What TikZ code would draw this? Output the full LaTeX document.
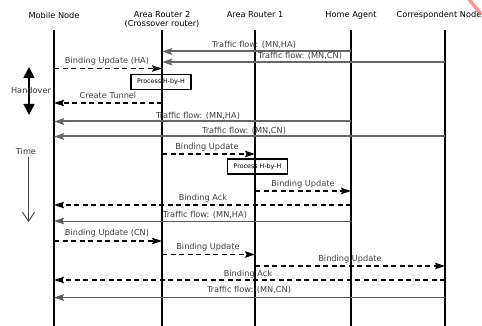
\documentclass[tikz,border=0pt]{standalone}
\usepackage{fontspec}
\setmainfont{DejaVu Sans}
\usetikzlibrary{arrows.meta}
\newcommand\Msg[8]{%
  \coordinate (#1s) at (#3,#5);
  \coordinate (#1e) at (#4,#5);
  \draw[#2] (#1s) -- (#1e);
  \node[lbl] (#1l) at (#6,#7) {#8};}
\begin{document}
\begin{tikzpicture}[x=1pt,y=-1pt,
  hdr/.style={font=\fontsize{8.2}{9}\selectfont, align=center, inner sep=0pt},
  lbl/.style={font=\fontsize{8.2}{9}\selectfont, text=black!75, inner sep=0pt},
  life/.style={line width=1.3pt},
  tip/.style={-{Stealth[length=10pt,width=6.5pt,inset=1.5pt]}},
  thickflow/.style={tip, draw=black!60, line width=2pt},
  thinflow/.style={tip, draw=black!65, line width=1pt},
  ctrl/.style={tip, draw=black, line width=1.2pt, dash pattern=on 5pt off 3.5pt},
  procbox/.style={draw, line width=1.2pt, minimum width=60pt, minimum height=15pt, inner sep=0pt, font=\fontsize{6.3}{7}\selectfont}
]
\useasboundingbox (0,0) rectangle (482,326);
\begin{scope}
\clip (0,0) rectangle (482,326);
% headers
\node[hdr] (mn) at (54,15) {Mobile Node};
\node[hdr] (ar2) at (162,19) {Area Router 2\\(Crossover router)};
\node[hdr] (ar1) at (255,15) {Area Router 1};
\node[hdr] (ha) at (351,15) {Home Agent};
\node[hdr, anchor=east] (cn) at (481.5,15) {Correspondent Node};
% red mark
\draw[draw={rgb,255:red,240;green,110;blue,110}, line width=3.5pt, opacity=0.7] (468,-2) -- (481,14);
\end{scope}
% lifelines
\foreach \n/\x in {mn/54, ar2/162, ar1/255, ha/351, cn/445}{
  \coordinate (\n top) at (\x,30);
  \coordinate (\n bot) at (\x,326);
  \draw[life] (\n top) -- (\n bot);
}
% messages
\Msg{a}{thickflow}{351}{162}{51.5}{254}{45}{Traffic flow: (MN,HA)}
\Msg{b}{thickflow}{445}{162}{62}{300}{56}{Traffic flow: (MN,CN)}
\Msg{c}{ctrl}{54}{162}{68.5}{107}{61}{Binding Update (HA)}
\node[procbox] (p1) at (161,82) {Process H-by-H};
\Msg{d}{ctrl}{162}{54}{103}{108}{95.5}{Create Tunnel}
\Msg{e}{thickflow}{351}{54}{121.5}{198}{115.5}{Traffic flow: (MN,HA)}
\Msg{f}{thickflow}{445}{54}{136.5}{244}{130.5}{Traffic flow: (MN,CN)}
\Msg{g}{ctrl}{162}{255}{154}{207}{147}{Binding Update}
\node[procbox] (p2) at (257.5,166.5) {Process H-by-H};
\Msg{h}{ctrl}{255}{351}{191}{303}{184}{Binding Update}
\Msg{i}{ctrl}{351}{54}{205}{203}{198.5}{Binding Ack}
\Msg{j}{thinflow}{351}{54}{221}{205}{215}{Traffic flow: (MN,HA)}
\Msg{k}{ctrl}{54}{162}{241}{107}{233.5}{Binding Update (CN)}
\Msg{l}{ctrl}{162}{255}{254.5}{208}{247.5}{Binding Update}
\Msg{m}{ctrl}{255}{445}{266}{350}{259}{Binding Update}
\Msg{n}{ctrl}{445}{54}{280}{248}{274}{Binding Ack}
\Msg{o}{thinflow}{445}{54}{297.5}{249}{289.5}{Traffic flow: (MN,CN)}
% handover
\coordinate (hoT) at (29,67);
\coordinate (hoB) at (29,115);
\draw[line width=1.5pt, {Triangle[length=11pt,width=11pt]}-{Triangle[length=11pt,width=11pt]}] (hoT) -- (hoB);
\node[lbl, text=black!80] (ho) at (31,90.5) {Handover};
% time
\node[lbl, text=black!80] (time) at (26,151) {Time};
\coordinate (tS) at (28.5,157);
\coordinate (tE) at (28.5,222);
\draw[draw=black!75, line width=0.9pt, -{Straight Barb[length=9pt,width=12pt,line width=0.9pt]}] (tS) -- (tE);
\end{tikzpicture}
\end{document}
